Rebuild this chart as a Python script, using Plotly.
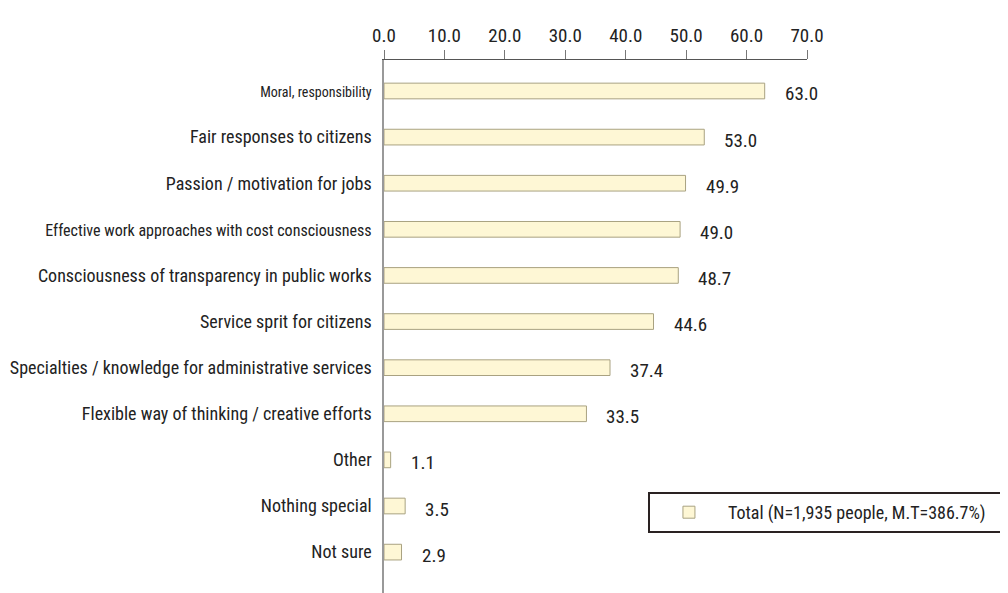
import plotly.graph_objects as go

categories = [
    "Moral, responsibility",
    "Fair responses to citizens",
    "Passion / motivation for jobs",
    "Effective work approaches with cost consciousness",
    "Consciousness of transparency in public works",
    "Service sprit for citizens",
    "Specialties / knowledge for administrative services",
    "Flexible way of thinking / creative efforts",
    "Other",
    "Nothing special",
    "Not sure",
]
values = [63.0, 53.0, 49.9, 49.0, 48.7, 44.6, 37.4, 33.5, 1.1, 3.5, 2.9]
series_name = "Total (N=1,935 people, M.T=386.7%)"
x_ticks = [0, 10, 20, 30, 40, 50, 60, 70]

LABEL_FONT = "Liberation Sans Narrow, Arial Narrow, Roboto Condensed, sans-serif"
NUM_FONT = "Liberation Sans Narrow, Roboto Condensed, sans-serif"

tick_text = []
for c in categories:
    if c == "Moral, responsibility":
        tick_text.append('<span style="font-size:14px">' + c + '</span>')
    elif c.startswith("Effective"):
        tick_text.append('<span style="font-size:16px">' + c + '</span>')
    else:
        tick_text.append(c)

fig = go.Figure()
fig.add_trace(go.Bar(
    y=categories,
    x=values,
    orientation="h",
    name=series_name + '<span style="font-size:40px"> </span>',
    width=0.34,
    marker=dict(color="#FEF7D5", line=dict(color="#A9A281", width=1)),
    showlegend=True,
))

for c, v in zip(categories, values):
    fig.add_annotation(
        x=v, y=c, text=f"{v:.1f}", showarrow=False,
        xanchor="left", yanchor="middle", xshift=18, yshift=-3,
        font=dict(family=NUM_FONT, size=19, color="#222222"),
    )

fig.update_layout(
    width=1008, height=593,
    margin=dict(l=376, r=209, t=52, b=0),
    paper_bgcolor="white", plot_bgcolor="white",
    xaxis=dict(
        side="top", range=[0, 70], tickvals=x_ticks,
        ticktext=[f"{t:.1f}" for t in x_ticks],
        showgrid=False, zeroline=False,
        showline=True, linecolor="#555555", linewidth=1,
        ticks="outside", ticklen=9, tickcolor="#777777", tickwidth=1,
        tickfont=dict(family=NUM_FONT, size=19, color="#222222"),
        fixedrange=True,
    ),
    yaxis=dict(
        type="category", categoryorder="array", categoryarray=categories,
        range=[11.06, -0.672],
        tickvals=categories, ticktext=tick_text,
        showgrid=False, zeroline=False,
        showline=True, linecolor="#999999", linewidth=1.5,
        ticks="", ticklabelstandoff=7,
        tickfont=dict(family=LABEL_FONT, size=18, color="#222222"),
    ),
    legend=dict(
        x=0.624, y=0.2015, xanchor="left", yanchor="top",
        bordercolor="#2a2222", borderwidth=2, bgcolor="white",
        font=dict(family=LABEL_FONT, size=18, color="#222222"),
        itemwidth=68,
    ),
)

fig.write_html("out.html")
